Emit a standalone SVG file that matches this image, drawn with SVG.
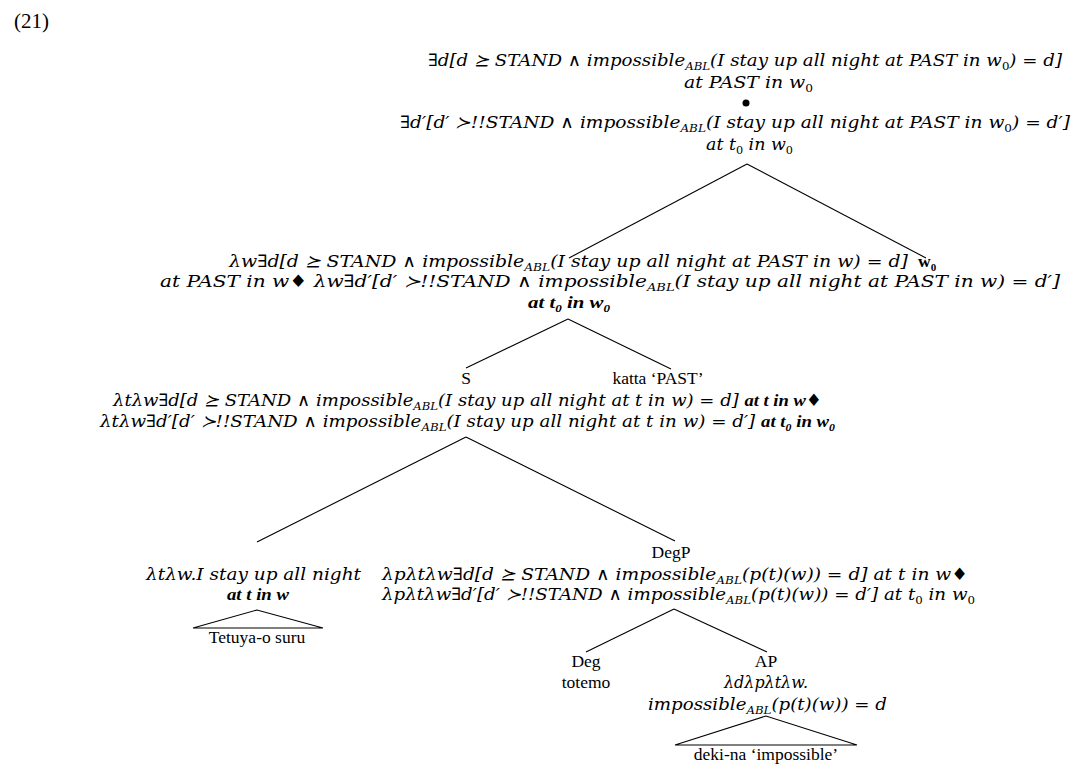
<svg xmlns="http://www.w3.org/2000/svg" width="1080" height="768" viewBox="0 0 1080 768">
<style>
.m{font-family:"DejaVu Serif","Liberation Serif",serif;font-style:italic;font-size:17px;fill:#000}
.r{font-family:"Liberation Serif","DejaVu Serif",serif;font-size:17.5px;fill:#000}
.c{text-anchor:middle}
.b{font-family:"Liberation Serif",serif;font-weight:bold;font-style:italic}
.s{font-size:11px}
.u{font-style:normal}
.e{stroke:#000;stroke-width:1.1;fill:none}
</style>
<rect width="1080" height="768" fill="#fff"/>
<text class="r" x="14" y="28" style="font-size:21px">(21)</text>
<g id="connectors">
<line class="e" x1="747" y1="164" x2="569" y2="258"/>
<line class="e" x1="747" y1="164" x2="926" y2="258"/>
<line class="e" x1="568" y1="319" x2="466" y2="368"/>
<line class="e" x1="568" y1="319" x2="671" y2="369"/>
<line class="e" x1="466" y1="437" x2="257" y2="542"/>
<line class="e" x1="466" y1="437" x2="675" y2="541"/>
<line class="e" x1="674" y1="609" x2="586" y2="652"/>
<line class="e" x1="674" y1="609" x2="767" y2="652"/>
</g>
<g id="root">
<text class="m" x="428" y="66" textLength="634" lengthAdjust="spacingAndGlyphs">∃d[d ⪰ STAND ∧ impossible<tspan class="s" dy="4">ABL</tspan><tspan dy="-4">(I stay up all night at PAST in w</tspan><tspan class="s u" dy="4">0</tspan><tspan dy="-4">) = d]</tspan></text>
<text class="m" x="684" y="88" textLength="129" lengthAdjust="spacingAndGlyphs">at PAST in w<tspan class="s u" dy="4">0</tspan></text>
<circle cx="746" cy="103" r="3.5" fill="#000"/>
<text class="m" x="400" y="128" textLength="670" lengthAdjust="spacingAndGlyphs">∃d′[d′ ≻!!STAND ∧ impossible<tspan class="s" dy="4">ABL</tspan><tspan dy="-4">(I stay up all night at PAST in w</tspan><tspan class="s u" dy="4">0</tspan><tspan dy="-4">) = d′]</tspan></text>
<text class="m" x="706" y="150" textLength="87" lengthAdjust="spacingAndGlyphs">at t<tspan class="s u" dy="4">0</tspan><tspan dy="-4"> in w</tspan><tspan class="s u" dy="4">0</tspan></text>
</g>
<g id="node-past">
<text class="m" x="229" y="267" textLength="679" lengthAdjust="spacingAndGlyphs">λw∃d[d ⪰ STAND ∧ impossible<tspan class="s" dy="4">ABL</tspan><tspan dy="-4">(I stay up all night at PAST in w) = d]</tspan></text>
<text class="m" x="160" y="287" textLength="900" lengthAdjust="spacingAndGlyphs">at PAST in w<tspan class="u">♦</tspan> λw∃d′[d′ ≻!!STAND ∧ impossible<tspan class="s" dy="4">ABL</tspan><tspan dy="-4">(I stay up all night at PAST in w) = d′]</tspan></text>
<text class="r b" x="528" y="308" textLength="82" lengthAdjust="spacingAndGlyphs">at t<tspan class="s" dy="4">0</tspan><tspan dy="-4"> in w</tspan><tspan class="s" dy="4">0</tspan></text>
</g>
<g id="node-w0">
<text class="r" x="918" y="267" style="font-weight:bold">w<tspan class="s" dy="4">0</tspan></text>
</g>
<g id="node-S">
<text class="r c" x="466" y="384">S</text>
<text class="m" x="113" y="406" textLength="709" lengthAdjust="spacingAndGlyphs">λtλw∃d[d ⪰ STAND ∧ impossible<tspan class="s" dy="4">ABL</tspan><tspan dy="-4">(I stay up all night at t in w) = d] </tspan><tspan class="b" style="font-size:17.5px">at t in w</tspan><tspan class="u">♦</tspan></text>
<text class="m" x="100" y="427" textLength="735" lengthAdjust="spacingAndGlyphs">λtλw∃d′[d′ ≻!!STAND ∧ impossible<tspan class="s" dy="4">ABL</tspan><tspan dy="-4">(I stay up all night at t in w) = d′] </tspan><tspan class="b" style="font-size:17.5px">at t</tspan><tspan class="s b" dy="4">0</tspan><tspan class="b" style="font-size:17.5px" dy="-4"> in w</tspan><tspan class="s b" dy="4">0</tspan></text>
</g>
<g id="node-katta">
<text class="r c" x="658" y="384">katta ‘PAST’</text>
</g>
<g id="node-vp">
<text class="m" x="146" y="580" textLength="215" lengthAdjust="spacingAndGlyphs">λtλw.I stay up all night</text>
<text class="r b" x="227" y="600" textLength="62" lengthAdjust="spacingAndGlyphs">at t in w</text>
<polygon class="e" points="257,610 193,628 323,628"/>
<text class="r c" x="257" y="643">Tetuya-o suru</text>
</g>
<g id="node-DegP">
<text class="r c" x="671" y="558">DegP</text>
<text class="m" x="382" y="580" textLength="586" lengthAdjust="spacingAndGlyphs">λpλtλw∃d[d ⪰ STAND ∧ impossible<tspan class="s" dy="4">ABL</tspan><tspan dy="-4">(p(t)(w)) = d] at t in w</tspan><tspan class="u">♦</tspan></text>
<text class="m" x="382" y="600" textLength="593" lengthAdjust="spacingAndGlyphs">λpλtλw∃d′[d′ ≻!!STAND ∧ impossible<tspan class="s" dy="4">ABL</tspan><tspan dy="-4">(p(t)(w)) = d′] at t</tspan><tspan class="s u" dy="4">0</tspan><tspan dy="-4"> in w</tspan><tspan class="s u" dy="4">0</tspan></text>
</g>
<g id="node-Deg">
<text class="r c" x="586" y="667">Deg</text>
<text class="r c" x="586" y="688">totemo</text>
</g>
<g id="node-AP">
<text class="r c" x="766" y="667">AP</text>
<text class="m" x="724" y="688" textLength="84" lengthAdjust="spacingAndGlyphs">λdλpλtλw.</text>
<text class="m" x="648" y="710" textLength="239" lengthAdjust="spacingAndGlyphs">impossible<tspan class="s" dy="4">ABL</tspan><tspan dy="-4">(p(t)(w)) = d</tspan></text>
<polygon class="e" points="766,716 675,745 857,745"/>
<text class="r c" x="766" y="760">deki-na ‘impossible’</text>
</g>
</svg>
